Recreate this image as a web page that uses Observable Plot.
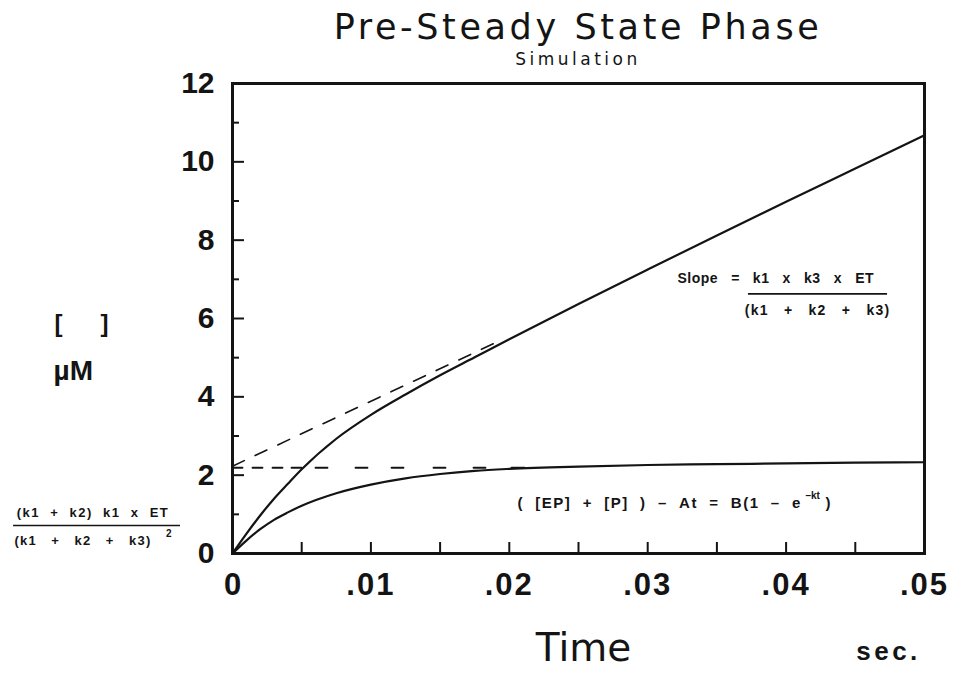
<!DOCTYPE html>
<html>
<head>
<meta charset="utf-8">
<script src="https://cdn.jsdelivr.net/npm/d3@7"></script>
<script src="https://cdn.jsdelivr.net/npm/@observablehq/plot@0.6"></script>
<style>
  body { margin: 0; background: #fff; }
  #wrap { width: 960px; height: 681px; position: relative; overflow: hidden; background: #fff; }
  #head { height: 70px; position: relative; }
  #title { position: absolute; left: 232px; width: 692px; top: 10px; text-align: center;
           font: 35px/35px "DejaVu Sans"; letter-spacing: 3.6px; color: #141414; white-space: nowrap; }
  #sub { position: absolute; left: 232px; width: 692px; top: 51px; text-align: center;
         font: 17px/17px "DejaVu Sans"; letter-spacing: 3.5px; color: #141414; white-space: nowrap; }
</style>
</head>
<body>
<div id="wrap">
  <div id="head">
    <div id="title">Pre-Steady State Phase</div>
    <div id="sub">Simulation</div>
  </div>
  <div id="chart"></div>
</div>
<script>
// ---- data ----
const timeS = [0, 0.001, 0.002, 0.003, 0.004, 0.005, 0.0075, 0.01, 0.0125, 0.015, 0.0175, 0.02, 0.025, 0.03, 0.035, 0.04, 0.045, 0.05];
const totalUM = [0, 0.50, 0.97, 1.40, 1.78, 2.15, 2.93, 3.54, 4.06, 4.55, 5.01, 5.47, 6.37, 7.25, 8.12, 8.98, 9.83, 10.68];
const burstUM = [0, 0.33, 0.62, 0.86, 1.05, 1.22, 1.54, 1.76, 1.92, 2.03, 2.11, 2.16, 2.22, 2.26, 2.28, 2.30, 2.32, 2.33];

// extrapolated steady-state line and burst amplitude (dashed)
const slopeLineT = [0, 0.0193];
const slopeLineV = [2.23, 5.43];
const burstLineT = [0, 0.0211];
const burstLineV = [2.19, 2.19];

// ticks
const xTickValues = [0, 0.01, 0.02, 0.03, 0.04, 0.05];
const xTickLabels = ["0", ".01", ".02", ".03", ".04", ".05"];
const xInnerTicks = [0.005, 0.01, 0.015, 0.02, 0.025, 0.03, 0.035, 0.04, 0.045];
const yTickValues = [0, 2, 4, 6, 8, 10, 12];
const yMajorInner = [2, 4, 6, 8, 10];
const yMinorInner = [1, 3, 5, 7, 9, 11];

// ---- build tables ----
const total = timeS.map((t, i) => ({t, v: totalUM[i]}));
const burst = timeS.map((t, i) => ({t, v: burstUM[i]}));
const slopeLine = slopeLineT.map((t, i) => ({t, v: slopeLineV[i]}));
const burstLine = burstLineT.map((t, i) => ({t, v: burstLineV[i]}));

const W = 960, H = 611, mL = 232, mR = 36, mT = 13, mB = 128;
const fw = W - mL - mR, fh = H - mT - mB;
const ink = "#141414";
const nb = "\u00a0";
const g2 = nb + nb, g3 = nb + nb + nb;

const sSlope = "Slope" + g3 + "=";
const sNum = "k1" + g3 + "x" + g3 + "k3" + g3 + "x" + g3 + "ET";
const sDen = "(k1" + g3 + "+" + g3 + "k2" + g3 + "+" + g3 + "k3)";
const sBurst = "(" + g2 + "[EP]" + g2 + "+" + g2 + "[P]" + g2 + ")" + g2 + "\u2013" + g2 + "At" + g2 + "=" + g2 + "B(1" + g2 + "\u2013" + g2 + "e";
const sAmpNum = "(k1" + g2 + "+" + g2 + "k2)" + g2 + "k1" + g2 + "x" + g2 + "ET";
const sAmpDen = "(k1" + g3 + "+" + g3 + "k2" + g3 + "+" + g3 + "k3)";

const chart = Plot.plot({
  width: W, height: H,
  marginLeft: mL, marginRight: mR, marginTop: mT, marginBottom: mB,
  style: {fontFamily: "Liberation Sans, Arial, sans-serif", background: "#fff", color: ink, overflow: "visible"},
  x: {domain: [0, 0.05]},
  y: {domain: [0, 12]},
  marks: [
    Plot.axisY({ticks: yTickValues, tickSize: 0, tickPadding: 18, fontSize: 30, fontWeight: "bold", label: null}),
    Plot.axisX({ticks: xTickValues, tickFormat: d => xTickLabels[xTickValues.indexOf(d)], tickSize: 0, tickPadding: 19, fontSize: 31, fontWeight: "bold", label: null}),
    Plot.tickX(xInnerTicks, {x: d => d, insetTop: fh - 11, stroke: ink, strokeWidth: 2}),
    Plot.tickY(yMajorInner, {y: d => d, insetRight: fw - 12, stroke: ink, strokeWidth: 2}),
    Plot.tickY(yMinorInner, {y: d => d, insetRight: fw - 7, stroke: ink, strokeWidth: 2}),
    Plot.line(slopeLine, {x: "t", y: "v", stroke: ink, strokeWidth: 1.6, strokeDasharray: "13,12"}),
    Plot.line(burstLine, {x: "t", y: "v", stroke: ink, strokeWidth: 1.8, strokeDasharray: "10,10,10,10,10,9,10,14,12,28,12,24,12,30,12,28,12,26,13"}),
    Plot.line(total, {x: "t", y: "v", stroke: ink, strokeWidth: 2.2, curve: "monotone-x"}),
    Plot.line(burst, {x: "t", y: "v", stroke: ink, strokeWidth: 2.2, curve: "monotone-x"}),
    Plot.frame({stroke: ink, strokeWidth: 3}),
    // slope annotation
    Plot.text([{t: 0.03215, v: 7.02, s: sSlope}], {x: "t", y: "v", text: "s", textAnchor: "start", fontSize: 14, fontWeight: "bold", fill: ink}),
    Plot.text([{t: 0.04198, v: 7.02, s: sNum}], {x: "t", y: "v", text: "s", fontSize: 14, fontWeight: "bold", fill: ink}),
    Plot.ruleY([{v: 6.63, t1: 0.03728, t2: 0.04733}], {y: "v", x1: "t1", x2: "t2", stroke: ink, strokeWidth: 1.6}),
    Plot.text([{t: 0.04227, v: 6.20, s: sDen}], {x: "t", y: "v", text: "s", fontSize: 14, fontWeight: "bold", fill: ink}),
    // burst annotation
    Plot.text([{t: 0.02059, v: 1.28, s: sBurst}], {x: "t", y: "v", text: "s", textAnchor: "start", fontSize: 15, fontWeight: "bold", fill: ink}),
    Plot.text([{t: 0.0414, v: 1.48, s: "\u2013kt"}], {x: "t", y: "v", text: "s", textAnchor: "start", fontSize: 10, fontWeight: "bold", fill: ink}),
    Plot.text([{t: 0.04285, v: 1.28, s: ")"}], {x: "t", y: "v", text: "s", textAnchor: "start", fontSize: 15, fontWeight: "bold", fill: ink}),
    // y label
    Plot.text([{t: -0.01257, v: 5.85, s: "["}, {t: -0.00925, v: 5.85, s: "]"}], {x: "t", y: "v", text: "s", fontSize: 24, fontWeight: "bold", fill: ink}),
    Plot.text([{t: -0.01293, v: 4.67, s: "\u00b5M"}], {x: "t", y: "v", text: "s", textAnchor: "start", fontSize: 28, fontWeight: "bold", fill: ink}),
    // left fraction (burst amplitude)
    Plot.text([{t: -0.01008, v: 1.05, s: sAmpNum}], {x: "t", y: "v", text: "s", fontSize: 13, fontWeight: "bold", fill: ink}),
    Plot.ruleY([{v: 0.714, t1: -0.01582, t2: -0.00376}], {y: "v", x1: "t1", x2: "t2", stroke: ink, strokeWidth: 1.6}),
    Plot.text([{t: -0.01575, v: 0.33, s: sAmpDen}], {x: "t", y: "v", text: "s", textAnchor: "start", fontSize: 13, fontWeight: "bold", fill: ink}),
    Plot.text([{t: -0.00480, v: 0.50, s: "2"}], {x: "t", y: "v", text: "s", textAnchor: "start", fontSize: 10, fontWeight: "bold", fill: ink}),
    // x label
    Plot.text([{t: 0.02536, s: "Time"}], {x: "t", text: "s", frameAnchor: "bottom", dy: 107, fontSize: 39, fontFamily: "DejaVu Sans", fill: ink}),
    Plot.text([{t: 0.0474, s: "sec."}], {x: "t", text: "s", frameAnchor: "bottom", dy: 106, fontSize: 26, fontWeight: "bold", fill: ink})
  ]
});

// letter spacing of the typewriter-like annotation lettering
const spacing = new Map([
  [sSlope, "0.5px"], [sNum, "0.5px"], [sDen, "0.5px"],
  [sBurst, "1.5px"], [sAmpNum, "1.5px"], [sAmpDen, "1.2px"],
  ["sec.", "3.5px"], [".01", "2px"], [".02", "2px"], [".03", "2px"], [".04", "2px"], [".05", "2px"]
]);
d3.select(chart).selectAll("text").each(function () {
  const s = spacing.get(this.textContent);
  if (s) this.style.letterSpacing = s;
});
document.getElementById("chart").appendChild(chart);
</script>
</body>
</html>
